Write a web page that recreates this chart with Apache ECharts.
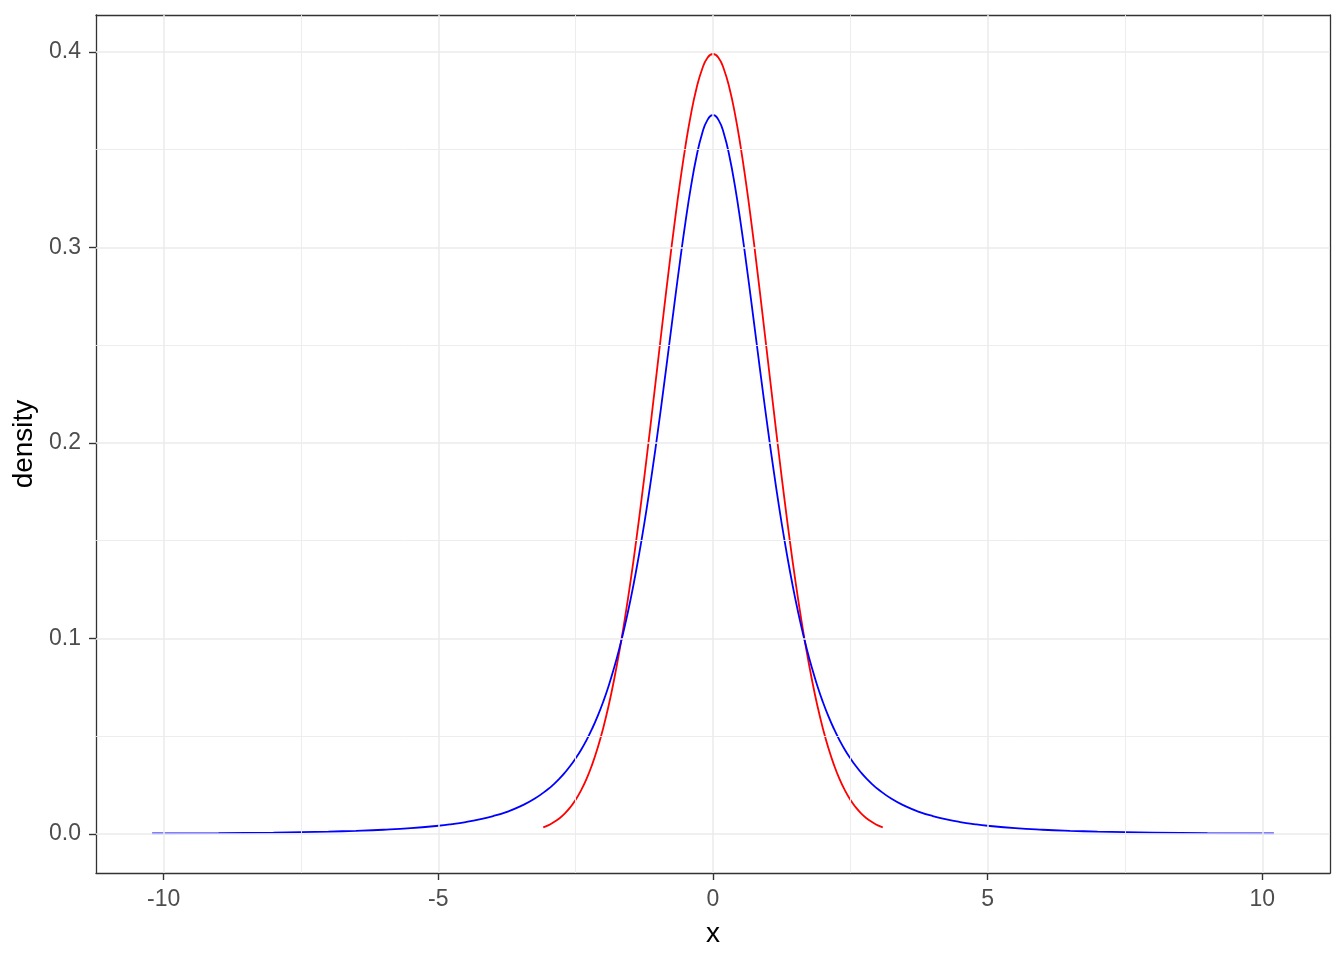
<!DOCTYPE html>
<html>
<head>
<meta charset="utf-8">
<script src="https://cdn.jsdelivr.net/npm/echarts@6/dist/echarts.min.js"></script>
<style>html,body{margin:0;padding:0;background:#fff}#c{width:1344px;height:960px}</style>
</head>
<body>
<div id="c"></div>
<script>
// Normal density curve (red)
const normX = [-3.09,-3.0,-2.9,-2.8,-2.7,-2.6,-2.5,-2.4,-2.3,-2.2,-2.1,-2.0,-1.9,-1.8,-1.7,-1.6,-1.5,-1.4,-1.3,-1.2,-1.1,-1.0,-0.9,-0.8,-0.7,-0.6,-0.5,-0.4,-0.3,-0.2,-0.1,0.0,0.1,0.2,0.3,0.4,0.5,0.6,0.7,0.8,0.9,1.0,1.1,1.2,1.3,1.4,1.5,1.6,1.7,1.8,1.9,2.0,2.1,2.2,2.3,2.4,2.5,2.6,2.7,2.8,2.9,3.0,3.09];
const normY = [0.0034,0.0044,0.0060,0.0079,0.0104,0.0136,0.0175,0.0224,0.0283,0.0355,0.0440,0.0540,0.0656,0.0790,0.0940,0.1109,0.1295,0.1497,0.1714,0.1942,0.2179,0.2420,0.2661,0.2897,0.3123,0.3332,0.3521,0.3683,0.3814,0.3910,0.3970,0.3989,0.3970,0.3910,0.3814,0.3683,0.3521,0.3332,0.3123,0.2897,0.2661,0.2420,0.2179,0.1942,0.1714,0.1497,0.1295,0.1109,0.0940,0.0790,0.0656,0.0540,0.0440,0.0355,0.0283,0.0224,0.0175,0.0136,0.0104,0.0079,0.0060,0.0044,0.0034];

// Heavy-tailed density curve (blue)
const tX = [-10.21,-9.0,-8.0,-7.5,-7.0,-6.5,-6.0,-5.5,-5.0,-4.75,-4.5,-4.25,-4.0,-3.75,-3.5,-3.25,-3.0,-2.9,-2.8,-2.7,-2.6,-2.5,-2.4,-2.3,-2.2,-2.1,-2.0,-1.9,-1.8,-1.7,-1.6,-1.5,-1.4,-1.3,-1.2,-1.1,-1.0,-0.9,-0.8,-0.7,-0.6,-0.5,-0.4,-0.3,-0.2,-0.1,0.0,0.1,0.2,0.3,0.4,0.5,0.6,0.7,0.8,0.9,1.0,1.1,1.2,1.3,1.4,1.5,1.6,1.7,1.8,1.9,2.0,2.1,2.2,2.3,2.4,2.5,2.6,2.7,2.8,2.9,3.0,3.25,3.5,3.75,4.0,4.25,4.5,4.75,5.0,5.5,6.0,6.5,7.0,7.5,8.0,9.0,10.21];
const tY = [0.00029,0.00047,0.00074,0.00094,0.00122,0.00162,0.00218,0.00299,0.00422,0.00506,0.00612,0.00746,0.00916,0.01136,0.01423,0.01799,0.0230,0.02541,0.02816,0.03125,0.03473,0.0387,0.04311,0.04814,0.05383,0.06025,0.0675,0.0757,0.0850,0.0954,0.1070,0.1200,0.1345,0.1504,0.1678,0.1867,0.2068,0.2279,0.2497,0.2716,0.2930,0.3132,0.3313,0.3465,0.3580,0.3652,0.3676,0.3652,0.3580,0.3465,0.3313,0.3132,0.2930,0.2716,0.2497,0.2279,0.2068,0.1867,0.1678,0.1504,0.1345,0.1200,0.1070,0.0954,0.0850,0.0757,0.0675,0.06025,0.05383,0.04814,0.04311,0.0387,0.03473,0.03125,0.02816,0.02541,0.0230,0.01799,0.01423,0.01136,0.00916,0.00746,0.00612,0.00506,0.00422,0.00299,0.00218,0.00162,0.00122,0.00094,0.00074,0.00047,0.00029];

// Axis ticks
const xMajor = [-10, -5, 0, 5, 10];
const xMinor = [-7.5, -2.5, 2.5, 7.5];
const yMajor = [0, 0.1, 0.2, 0.3, 0.4];
const yMinor = [0.05, 0.15, 0.25, 0.35];

const xMin = -11.231, xMax = 11.231;
const yMin = -0.01995, yMax = 0.41885;

const pair = (xs, ys) => xs.map((x, i) => [x, ys[i]]);

const gridLines = [];
xMinor.forEach(v => gridLines.push({xAxis: v, lineStyle: {color: '#EBEBEB', width: 0.9, type: 'solid'}}));
yMinor.forEach(v => gridLines.push({yAxis: v, lineStyle: {color: '#EBEBEB', width: 0.9, type: 'solid'}}));
xMajor.forEach(v => gridLines.push({xAxis: v, lineStyle: {color: '#EBEBEB', width: 1.5, type: 'solid'}}));
yMajor.forEach(v => gridLines.push({yAxis: v, lineStyle: {color: '#EBEBEB', width: 1.5, type: 'solid'}}));

const FONT = '"Liberation Sans", Arial, sans-serif';
const frame = {show: true, onZero: false, lineStyle: {color: '#333333', width: 1.3}};
const hiddenAxisBits = {axisTick: {show: false}, axisLabel: {show: false}, splitLine: {show: false}};

const chart = echarts.init(document.getElementById('c'), null, {renderer: 'canvas'});
chart.setOption({
  animation: false,
  backgroundColor: '#ffffff',
  grid: {left: 96, right: 14, top: 15, bottom: 87, containLabel: false, outerBoundsMode: 'none', show: false},
  xAxis: [{
    type: 'value', min: xMin, max: xMax, position: 'bottom',
    name: 'x', nameLocation: 'middle', nameGap: 47,
    nameTextStyle: {color: '#000', fontSize: 28, fontFamily: FONT},
    axisLine: frame,
    splitLine: {show: false},
    axisTick: {show: true, length: 7, lineStyle: {color: '#333333', width: 1.4}, customValues: xMajor},
    axisLabel: {color: '#4D4D4D', fontSize: 23, fontFamily: FONT, margin: 15, customValues: xMajor,
      formatter: v => String(v)}
  }, Object.assign({type: 'value', min: xMin, max: xMax, position: 'top', axisLine: frame}, hiddenAxisBits)],
  yAxis: [{
    type: 'value', min: yMin, max: yMax, position: 'left',
    name: 'density', nameLocation: 'middle', nameGap: 54, nameRotate: 90,
    nameTextStyle: {color: '#000', fontSize: 28, fontFamily: FONT},
    axisLine: frame,
    splitLine: {show: false},
    axisTick: {show: true, length: 7, lineStyle: {color: '#333333', width: 1.4}, customValues: yMajor},
    axisLabel: {color: '#4D4D4D', fontSize: 23, fontFamily: FONT, margin: 15, customValues: yMajor,
      formatter: v => v.toFixed(1)}
  }, Object.assign({type: 'value', min: yMin, max: yMax, position: 'right', axisLine: frame}, hiddenAxisBits)],
  series: [
    {type: 'line', data: [], silent: true, z: 1,
     markLine: {silent: true, symbol: ['none', 'none'], label: {show: false}, animation: false, data: gridLines}},
    {type: 'line', data: pair(normX, normY), showSymbol: false, symbol: 'none', z: 3,
     smooth: 0.5,
     lineStyle: {color: '#FF0000', width: 1.8}},
    {type: 'line', data: pair(tX, tY), showSymbol: false, symbol: 'none', z: 4,
     smooth: 0.5,
     lineStyle: {color: '#0000FF', width: 1.8}}
  ]
});
</script>
</body>
</html>
